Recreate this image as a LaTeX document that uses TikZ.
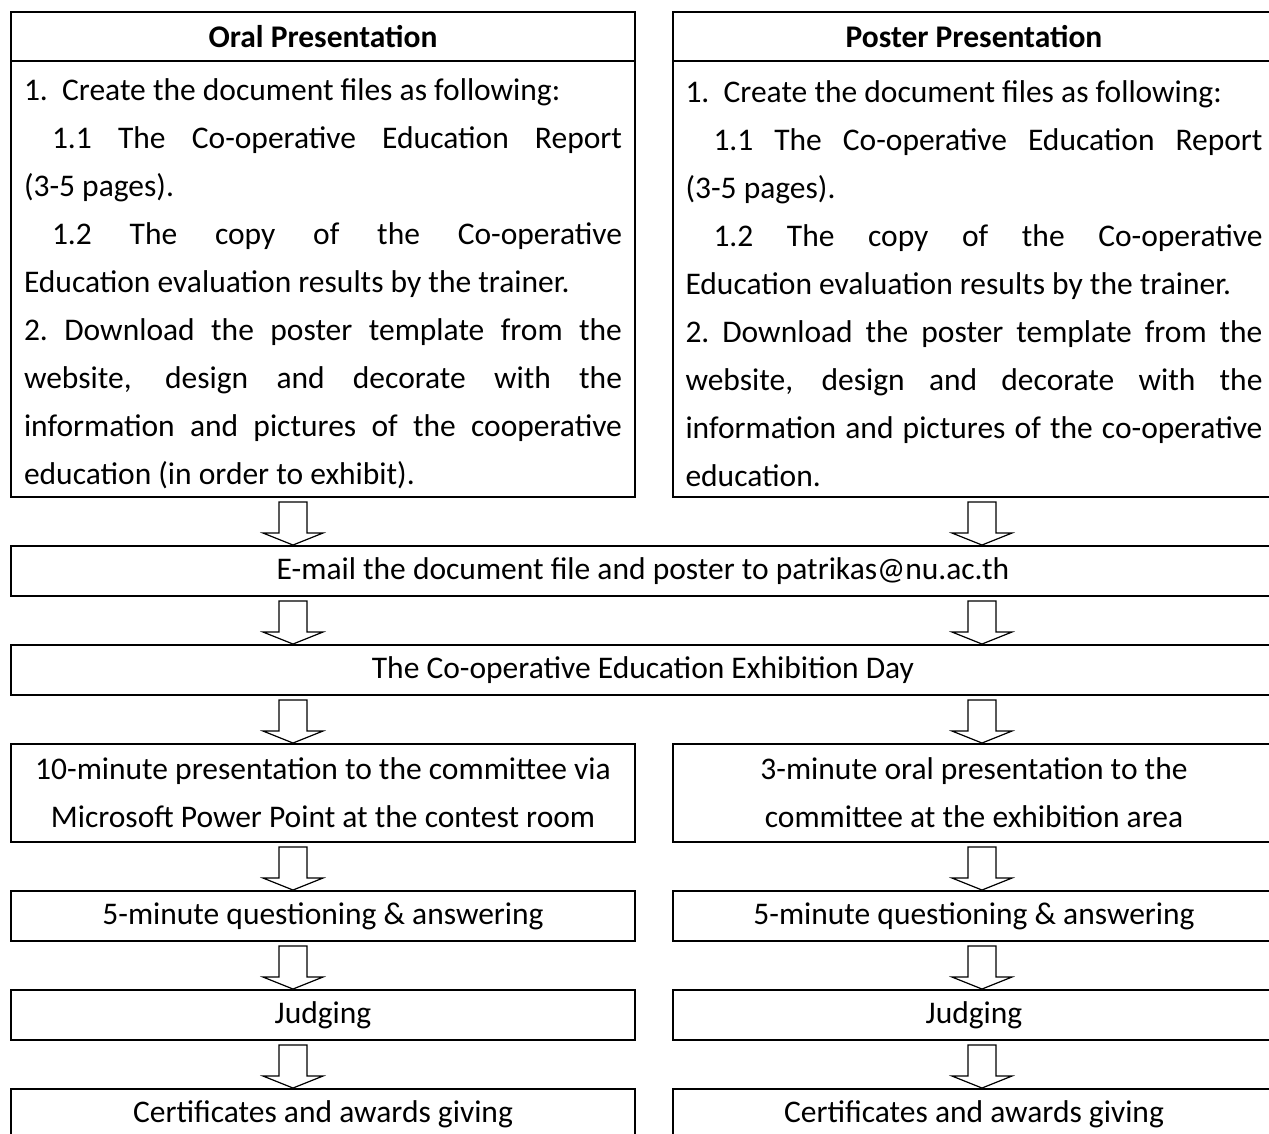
\documentclass[tikz,border=0pt]{standalone}
\usepackage{fontspec}
\setmainfont{Carlito}
\usetikzlibrary{calc,positioning}

\tikzset{
  stepbox/.style={draw, line width=1.7pt, inner sep=0pt, outer sep=0pt, minimum height=50pt,
    align=center, font=\fontsize{31.5}{48}\selectfont},
  headbox/.style={stepbox, minimum height=49pt, font=\fontsize{31.5}{48}\selectfont\bfseries},
  bodybox/.style={draw, line width=1.7pt, inner sep=0pt, outer sep=0pt, minimum height=436pt,
    align=justify, font=\fontsize{31.5}{48}\selectfont},
  blockarrow/.style={draw, line width=1.2pt, fill=white, line join=miter},
}

% hollow down arrow at x=#1 from node #2 to node #3
\newcommand{\blockdown}[3]{%
  \path (#1,0 |- #2.south) ++(0,-5pt) coordinate (t)
        (#1,0 |- #3.north) ++(0,1pt) coordinate (b);
  \draw[blockarrow] ($(t)+(-14pt,0)$) -- ($(t)+(14pt,0)$) -- ($(b)+(14pt,12pt)$)
    -- ($(b)+(30pt,12pt)$) -- (b) -- ($(b)+(-30pt,12pt)$) -- ($(b)+(-14pt,12pt)$) -- cycle;
}

\begin{document}
\begin{tikzpicture}
  \useasboundingbox (0pt,0pt) rectangle (1269pt,-1133pt);

  %% the two presentation types
  \node[headbox, minimum width=624pt, anchor=north west] (oralhead) at (11pt,-12pt) {Oral Presentation};
  \node[bodybox, text width=598pt, minimum width=624pt, below=0pt of oralhead] (oralbody) {%
    \rule{0pt}{32pt}1.\ \ Create the document files as following:\\
    \hspace*{28pt}1.1 The Co-operative Education Report\linebreak
    (3-5 pages).\\
    \hspace*{28pt}1.2 The copy of the Co-operative\linebreak
    Education evaluation results by the trainer.\\
    2.\ Download the poster template from the\linebreak
    website, design and decorate with the\linebreak
    information and pictures of the cooperative\linebreak
    education (in order to exhibit).};

  \node[headbox, minimum width=602pt, anchor=north west] (posterhead) at (673pt,-12pt) {Poster Presentation};
  \node[bodybox, text width=577pt, minimum width=602pt, below=0pt of posterhead] (posterbody) {%
    \rule{0pt}{32pt}1.\ \ Create the document files as following:\\
    \hspace*{28pt}1.1 The Co-operative Education Report\linebreak
    (3-5 pages).\\
    \hspace*{28pt}1.2 The copy of the Co-operative\linebreak
    Education evaluation results by the trainer.\\
    2.\ Download the poster template from the\linebreak
    website, design and decorate with the\linebreak
    information and pictures of the co-operative\linebreak
    education.};

  %% common steps
  \node[stepbox, minimum width=1264pt, below=49pt of oralbody.south west, anchor=north west] (email)
    {E-mail the document file and poster to patrikas@nu.ac.th};
  \node[stepbox, minimum width=1264pt, below=49pt of email.south west, anchor=north west] (exhibit)
    {The Co-operative Education Exhibition Day};

  %% oral column
  \node[stepbox, minimum width=624pt, minimum height=98pt, below=49pt of exhibit.south west, anchor=north west] (oraltalk)
    {10-minute presentation to the committee via\\ Microsoft Power Point at the contest room};
  \node[stepbox, minimum width=624pt, below=49pt of oraltalk.south west, anchor=north west] (oralqa)
    {5-minute questioning \& answering};
  \node[stepbox, minimum width=624pt, below=49pt of oralqa.south west, anchor=north west] (oraljudge) {Judging};
  \node[stepbox, minimum width=624pt, below=49pt of oraljudge.south west, anchor=north west] (oralcert)
    {Certificates and awards giving};

  %% poster column
  \node[stepbox, minimum width=602pt, minimum height=98pt, anchor=north west] (postertalk) at (673pt,0 |- oraltalk.north)
    {3-minute oral presentation to the\\ committee at the exhibition area};
  \node[stepbox, minimum width=602pt, below=49pt of postertalk.south west, anchor=north west] (posterqa)
    {5-minute questioning \& answering};
  \node[stepbox, minimum width=602pt, below=49pt of posterqa.south west, anchor=north west] (posterjudge) {Judging};
  \node[stepbox, minimum width=602pt, below=49pt of posterjudge.south west, anchor=north west] (postercert)
    {Certificates and awards giving};

  %% arrows
  \blockdown{293pt}{oralbody}{email}
  \blockdown{982pt}{posterbody}{email}
  \blockdown{293pt}{email}{exhibit}
  \blockdown{982pt}{email}{exhibit}
  \blockdown{293pt}{exhibit}{oraltalk}
  \blockdown{982pt}{exhibit}{postertalk}
  \blockdown{293pt}{oraltalk}{oralqa}
  \blockdown{982pt}{postertalk}{posterqa}
  \blockdown{293pt}{oralqa}{oraljudge}
  \blockdown{982pt}{posterqa}{posterjudge}
  \blockdown{293pt}{oraljudge}{oralcert}
  \blockdown{982pt}{posterjudge}{postercert}
\end{tikzpicture}
\end{document}
